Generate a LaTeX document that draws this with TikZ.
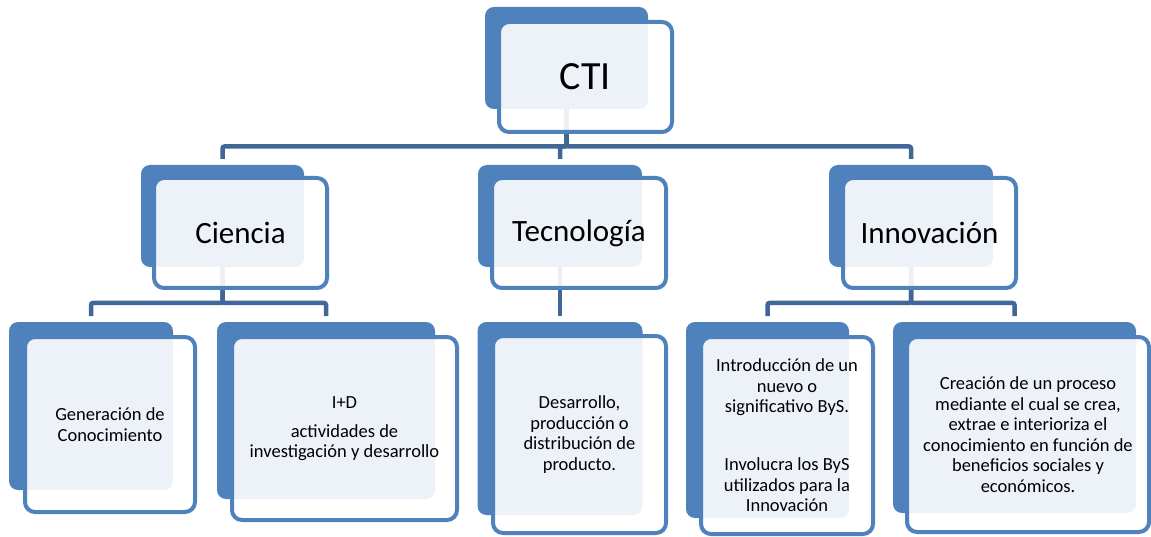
\documentclass[tikz,border=0pt]{standalone}
\usepackage{fontspec}
\setmainfont{Carlito}
\definecolor{boxblue}{RGB}{79,129,189}
\definecolor{lineblue}{RGB}{64,103,152}
\tikzset{
backbox/.style={
  fill=boxblue, rounded corners=9pt, inner sep=0pt, outer sep=0pt},
frontbox/.style={
  draw=boxblue, line width=4pt, fill=white, fill opacity=0.9, text opacity=1,
  rounded corners=10pt, inner sep=0pt, outer sep=0pt, align=center},
conn/.style={
  draw=lineblue, line width=4.5pt, rounded corners=2pt, shorten >=6pt},
big/.style={font=\fontsize{40}{48}\selectfont},
mid/.style={font=\fontsize{31}{37}\selectfont},
small/.style={font=\fontsize{18.5}{20.5}\selectfont}}

\begin{document}
\begin{tikzpicture}[x=1pt,y=-1pt]
\useasboundingbox (0,0) rectangle (1151,537);
% back boxes
\node[backbox, minimum width=163pt, minimum height=102pt] (cti-b) at (566.5,58) {};
\node[backbox, minimum width=163pt, minimum height=102pt] (cien-b) at (222.5,216) {};
\node[backbox, minimum width=164pt, minimum height=102pt] (tec-b) at (560,216) {};
\node[backbox, minimum width=164pt, minimum height=102pt] (inn-b) at (911,216) {};
\node[backbox, minimum width=164pt, minimum height=168pt] (gen-b) at (91,406) {};
\node[backbox, minimum width=218pt, minimum height=177pt] (id-b) at (326,410.5) {};
\node[backbox, minimum width=165pt, minimum height=193pt] (des-b) at (560,418.5) {};
\node[backbox, minimum width=163pt, minimum height=196pt] (intro-b) at (767.5,420) {};
\node[backbox, minimum width=243pt, minimum height=191pt] (crea-b) at (1014.5,417.5) {};
% connectors
\foreach \c in {cien-b,tec-b,inn-b}
  \draw[conn] (cti-b.south) -- ++(0,37.5) -| (\c.north);
\foreach \c in {gen-b,id-b}
  \draw[conn] (cien-b.south) -- ++(0,36) -| (\c.north);
\draw[conn] (tec-b.south) -- (des-b.north);
\foreach \c in {intro-b,crea-b}
  \draw[conn] (inn-b.south) -- ++(0,36) -| (\c.north);
% front boxes
\node[frontbox, big, minimum width=173pt, minimum height=110pt] (cti) at (585.5,77) {CTI};
\node[frontbox, mid, minimum width=173pt, minimum height=110pt] (cien) at (240.5,233) {Ciencia};
\node[frontbox, mid, minimum width=174pt, minimum height=110pt] (tec) at (579,233) {Tecnología};
\node[frontbox, mid, minimum width=173pt, minimum height=110pt] (inn) at (929.5,233) {Innovación};
\node[frontbox, small, minimum width=170pt, minimum height=175pt] (gen) at (110,424.5)
  {Generación de\\Conocimiento};
\node[frontbox, small, minimum width=225pt, minimum height=183pt] (id) at (344.5,428.5)
  {I+D\\[8.5pt]actividades de\\investigación y desarrollo};
\node[frontbox, small, minimum width=173pt, minimum height=197pt] (des) at (579.5,434.5)
  {Desarrollo,\\producción o\\distribución de\\producto.};
\node[frontbox, small, minimum width=172pt, minimum height=197pt] (intro) at (787,435.5)
  {Introducción de un\\nuevo o\\significativo ByS.\\[37.5pt]Involucra los ByS\\utilizados para la\\Innovación};
\node[frontbox, small, minimum width=242pt, minimum height=195pt] (crea) at (1028,434.5)
  {Creación de un proceso\\mediante el cual se crea,\\extrae e interioriza el\\conocimiento en función de\\beneficios sociales y\\económicos.};
\end{tikzpicture}
\end{document}
